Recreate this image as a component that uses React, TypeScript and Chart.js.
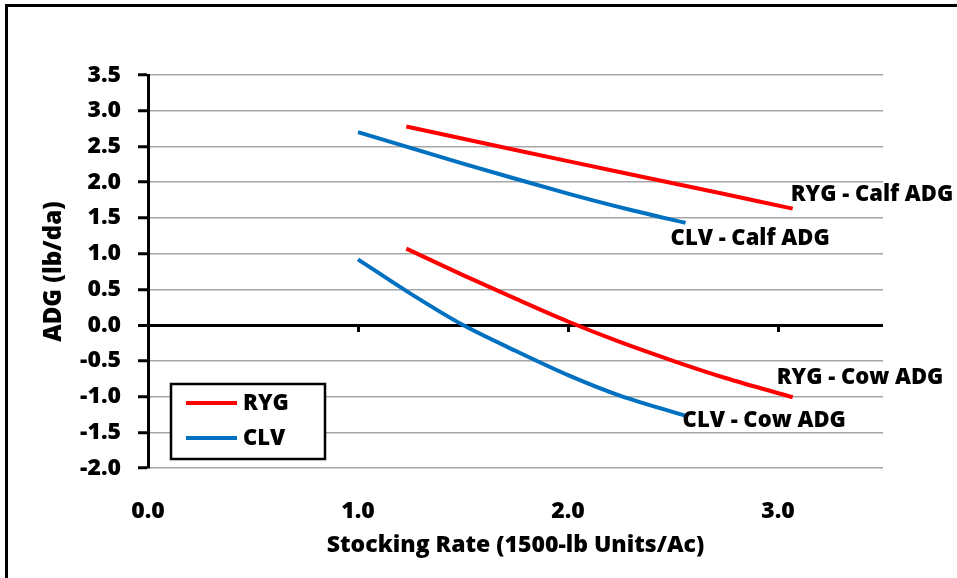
import React, { useEffect, useRef } from "react";
import { Chart, registerables } from "chart.js";

Chart.register(...registerables);

// ---- Data ----
const xMin = 0;
const xMax = 3.5;
const yMin = -2.0;
const yMax = 3.5;

const rygCalfX = [1.23, 1.75, 2.25, 2.75, 3.07];
const rygCalfY = [2.78, 2.45, 2.14, 1.83, 1.63];

const clvCalfX = [1.0, 1.5, 2.0, 2.3, 2.56];
const clvCalfY = [2.7, 2.26, 1.84, 1.61, 1.43];

const rygCowX = [1.23, 1.5, 1.75, 2.0, 2.25, 2.5, 2.75, 3.07];
const rygCowY = [1.07, 0.7, 0.37, 0.05, -0.24, -0.5, -0.74, -1.01];

const clvCowX = [1.0, 1.25, 1.5, 1.75, 2.0, 2.25, 2.56];
const clvCowY = [0.92, 0.44, 0.0, -0.36, -0.7, -0.99, -1.27];

const seriesNames = ["RYG - Calf ADG", "CLV - Calf ADG", "RYG - Cow ADG", "CLV - Cow ADG"];
const legendNames = ["RYG", "CLV"];

const xTitle = "Stocking Rate (1500-lb Units/Ac)";
const yTitle = "ADG (lb/da)";

// ---- Styles ----
const RED = "#FF0000";
const BLUE = "#0070C0";
const FONT = "'Open Sans', 'Liberation Sans', sans-serif";
const WEIGHT = "800";
const labelOffsets = [
  [-2, -14],
  [-15, 16],
  [-16, -20],
  [-3, 5],
];

const toPoints = (xs: number[], ys: number[]) => xs.map((x, i) => ({ x, y: ys[i] }));

const labelsPlugin = {
  id: "endLabels",
  afterDraw(chart: any) {
    const ctx = chart.ctx;
    ctx.save();
    ctx.font = `${WEIGHT} 22px ${FONT}`;
    ctx.fillStyle = "#000";
    ctx.textAlign = "left";
    ctx.textBaseline = "middle";
    chart.data.datasets.forEach((ds: any, i: number) => {
      const meta = chart.getDatasetMeta(i);
      const last = meta.data[meta.data.length - 1];
      const [dx, dy] = labelOffsets[i];
      ctx.fillText(seriesNames[i], last.x + dx, last.y + dy);
    });

    // legend box inside plot area, lower-left
    const area = chart.chartArea;
    const bx = area.left + 23;
    const bw = 154;
    const bh = 75;
    const by = area.bottom - 9 - bh;
    ctx.fillStyle = "#fff";
    ctx.fillRect(bx, by, bw, bh);
    ctx.strokeStyle = "#000";
    ctx.lineWidth = 2.5;
    ctx.strokeRect(bx, by, bw, bh);
    const colors = [RED, BLUE];
    legendNames.forEach((name, i) => {
      const cy = by + 19 + i * 35;
      ctx.strokeStyle = colors[i];
      ctx.lineWidth = 4;
      ctx.beginPath();
      ctx.moveTo(bx + 15, cy);
      ctx.lineTo(bx + 66, cy);
      ctx.stroke();
      ctx.fillStyle = "#000";
      ctx.font = `${WEIGHT} 22px ${FONT}`;
      ctx.fillText(name, bx + 72, cy + 1);
    });
    ctx.restore();
  },
};

const keepUpTo3 = (scale: any) => {
  scale.ticks = scale.ticks.filter((t: any) => t.value <= 3);
};

export default function App() {
  const canvasRef = useRef<HTMLCanvasElement | null>(null);

  useEffect(() => {
    const canvas = canvasRef.current;
    if (!canvas) return;
    const lineDs = (label: string, xs: number[], ys: number[], color: string) => ({
      label,
      data: toPoints(xs, ys),
      borderColor: color,
      backgroundColor: color,
      borderWidth: 4,
      pointRadius: 0,
      tension: 0.3,
      fill: false,
    });
    const tickFont = { family: FONT, size: 23, weight: WEIGHT };
    const titleFont = { family: FONT, size: 23, weight: WEIGHT };
    const chart = new Chart(canvas, {
      type: "line",
      data: {
        datasets: [
          lineDs(seriesNames[0], rygCalfX, rygCalfY, RED),
          lineDs(seriesNames[1], clvCalfX, clvCalfY, BLUE),
          lineDs(seriesNames[2], rygCowX, rygCowY, RED),
          lineDs(seriesNames[3], clvCowX, clvCowY, BLUE),
        ],
      },
      options: {
        responsive: false,
        animation: false,
        devicePixelRatio: 1,
        layout: { padding: { left: 0, top: 75, right: 74, bottom: 0 } },
        plugins: {
          legend: { display: false },
          tooltip: { enabled: false },
        },
        scales: {
          x: {
            type: "linear",
            position: "bottom",
            min: xMin,
            max: xMax,
            afterBuildTicks: keepUpTo3,
            afterFit: (s: any) => {
              s.height = 110;
            },
            grid: { display: false },
            border: { display: false },
            ticks: {
              stepSize: 1,
              padding: 22,
              color: "#000",
              font: tickFont as any,
              callback: (v: any) => Number(v).toFixed(1),
            },
            title: {
              display: true,
              text: xTitle,
              color: "#000",
              font: titleFont as any,
              padding: { top: 0, bottom: 19 },
            },
          },
          x2: {
            type: "linear",
            axis: "x",
            position: { y: 0 },
            min: xMin,
            max: xMax,
            afterBuildTicks: keepUpTo3,
            grid: {
              drawOnChartArea: false,
              drawTicks: true,
              tickLength: 7,
              tickColor: "#000",
              tickWidth: 3,
            },
            border: { display: false },
            ticks: { display: false, stepSize: 1 },
          },
          y: {
            type: "linear",
            position: "left",
            min: yMin,
            max: yMax,
            afterFit: (s: any) => {
              s.width = 148;
            },
            border: { display: true, color: "#000", width: 3 },
            grid: {
              color: (c: any) => (c.tick && c.tick.value === 0 ? "#000" : "#a6a6a6"),
              lineWidth: (c: any) => (c.tick && c.tick.value === 0 ? 3 : 1.5),
              drawTicks: true,
              tickLength: 10,
              tickColor: "#000",
              tickWidth: 3,
            },
            ticks: {
              stepSize: 0.5,
              padding: 17,
              color: "#000",
              font: tickFont as any,
              callback: (v: any) => Number(v).toFixed(1),
            },
            title: {
              display: true,
              text: yTitle,
              color: "#000",
              font: { family: FONT, size: 24, weight: WEIGHT } as any,
              padding: { top: 40, bottom: 0 },
            },
          },
        },
      },
      plugins: [labelsPlugin],
    });
    return () => chart.destroy();
  }, []);

  return (
    <div
      style={{
        position: "fixed",
        left: 0,
        top: 0,
        width: 957,
        height: 578,
        background: "#fff",
        overflow: "hidden",
      }}
    >
      <div
        style={{
          position: "absolute",
          left: 5,
          top: 4,
          right: -10,
          bottom: -10,
          borderLeft: "3px solid #000",
          borderTop: "3px solid #000",
        }}
      />
      <canvas
        ref={canvasRef}
        width={957}
        height={578}
        style={{ position: "absolute", left: 0, top: 0, width: 957, height: 578 }}
      />
    </div>
  );
}
